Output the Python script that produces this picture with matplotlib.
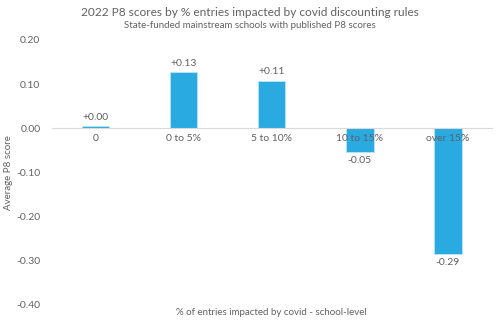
import matplotlib
matplotlib.use("Agg")
import matplotlib.pyplot as plt

categories = ["0", "0 to 5%", "5 to 10%", "10 to 15%", "over 15%"]
values = [0.005, 0.127, 0.108, -0.053, -0.285]
labels = ["+0.00", "+0.13", "+0.11", "-0.05", "-0.29"]
yticks = [0.20, 0.10, 0.00, -0.10, -0.20, -0.30, -0.40]

plt.rcParams['font.family'] = ['Lato', 'DejaVu Sans']
txt = '#616161'

fig = plt.figure(figsize=(5, 3.27), dpi=100)
ax = fig.add_axes([0.103, 0.0673, 0.881, 0.8104])

x = list(range(len(categories)))
bars = ax.bar(x, values, width=0.31, color='#29ABE2', edgecolor='#BDE3F5', linewidth=0.6)
ax.bar_label(bars, labels=labels, padding=3, fontsize=7.5, color=txt)

ax.set_xlim(-0.5, len(categories) - 0.5)
ax.set_ylim(-0.40, 0.20)
ax.set_yticks(yticks)
ax.set_yticklabels([f"{v:.2f}" for v in yticks])
ax.set_xticks(x)
ax.set_xticklabels(categories)

for s in ['top', 'right', 'left']:
    ax.spines[s].set_visible(False)
ax.spines['bottom'].set_position(('data', 0))
ax.spines['bottom'].set_color('#D9D9D9')
ax.spines['bottom'].set_linewidth(0.8)
ax.tick_params(axis='both', length=0, labelsize=7.5, labelcolor=txt)
ax.tick_params(axis='y', pad=8)
ax.tick_params(axis='x', pad=4)

ax.set_ylabel("Average P8 score", fontsize=7, color=txt)
ax.yaxis.set_label_coords(-0.088, 0.5)
ax.text(0.5, -0.028, "% of entries impacted by covid - school-level", transform=ax.transAxes,
        ha='center', va='center', fontsize=7, color=txt)

fig.text(0.5, 0.962, "2022 P8 scores by % entries impacted by covid discounting rules",
         ha='center', va='center', fontsize=8.6, color=txt)
fig.text(0.5, 0.922, "State-funded mainstream schools with published P8 scores",
         ha='center', va='center', fontsize=7, color=txt)

fig.savefig("out.png", dpi=100)
